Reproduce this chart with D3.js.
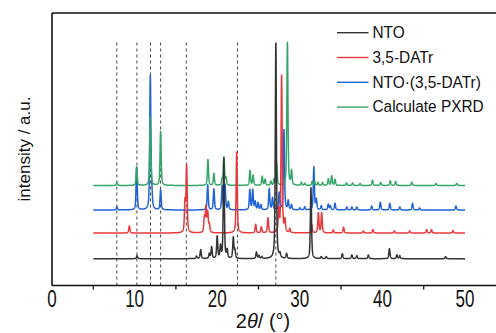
<!DOCTYPE html>
<html>
<head>
<meta charset="utf-8">
<script src="https://cdn.jsdelivr.net/npm/d3@7/dist/d3.min.js"></script>
<style>
  html, body { margin: 0; padding: 0; background: #fff; }
  svg { display: block; font-family: "Liberation Sans", Arial, sans-serif; }
</style>
</head>
<body>
<svg id="chart" width="496" height="333"></svg>
<script>
// Reflection lists [2θ (°), relative intensity (a.u.)] for each pattern
const ntoPeaks = [
  [10.3, 3], [17.5, 2.5], [18.0, 9], [19.05, 5], [19.33, 11.6], [20.0, 22], [20.4, 12],
  [20.8, 100], [21.2, 8], [21.95, 21], [22.15, 8], [24.75, 6.5], [25.05, 3], [25.4, 2],
  [27.1, 215], [27.6, 4], [28.4, 5], [31.35, 71], [32.6, 2], [33.2, 2], [35.15, 5],
  [36.3, 3.7], [36.9, 3], [38.3, 3.7], [40.85, 10], [41.75, 3.7], [42.1, 3], [47.65, 2]
];
const datrPeaks = [
  [9.36, 7], [16.1, 30], [16.3, 66], [18.45, 15], [18.64, 25], [18.85, 20], [19.05, 8],
  [22.36, 81], [24.66, 8.5], [25.35, 6], [26.15, 15], [27.45, 22], [27.8, 157], [28.2, 12],
  [28.8, 4], [31.45, 8], [32.25, 20], [32.65, 20], [34.06, 3], [35.3, 5.7], [37.7, 2],
  [38.85, 3.3], [41.45, 2], [43.3, 2], [45.35, 3.3], [45.95, 3.3], [48.55, 2.5]
];
const cocrystalPeaks = [
  [7.85, 3], [10.25, 43], [11.9, 133], [12.08, 15], [13.15, 20], [18.85, 25], [19.6, 21],
  [20.6, 24], [20.95, 25], [21.35, 8], [23.95, 20], [24.3, 20], [24.6, 8], [24.95, 7],
  [25.3, 5], [26.3, 21], [26.7, 12], [27.5, 17], [28.08, 80], [28.6, 9], [29.0, 5],
  [30.0, 2], [30.6, 3], [31.7, 43], [32.0, 10], [32.6, 4], [33.45, 5.7], [33.7, 4],
  [34.26, 6.7], [35.7, 3], [36.3, 3], [36.9, 3], [38.7, 4], [39.75, 7.7], [40.9, 6.7],
  [42.1, 3], [43.65, 6.7], [44.5, 2], [48.9, 4]
];
const calcPeaks = [
  [7.85, 3], [10.25, 18], [11.9, 68], [13.15, 54], [18.88, 26], [19.6, 12], [20.6, 6],
  [20.82, 28], [21.07, 7], [23.97, 15], [24.35, 10], [25.45, 9], [25.8, 6], [26.5, 4],
  [26.9, 6], [27.2, 22], [28.5, 143], [29.0, 14], [30.2, 3], [30.6, 2], [31.5, 4],
  [31.8, 4], [32.2, 3], [32.75, 3], [33.45, 6.5], [33.86, 9.5], [34.26, 6], [35.65, 2.5],
  [36.4, 2.5], [37.3, 2], [38.8, 5.3], [39.8, 3], [40.95, 4.7], [41.6, 4], [43.55, 3.3],
  [46.5, 2], [49.0, 2]
];

// Series names and vertical stacking offsets (a.u.)
const seriesNames = ["NTO", "3,5-DATr", "NTO·(3,5-DATr)", "Calculate PXRD"];
const seriesOffsets = [26.8, 52.5, 75.5, 100];
const seriesPeaks = [ntoPeaks, datrPeaks, cocrystalPeaks, calcPeaks];
const seriesColors = ["#333333", "#e8383d", "#1f63d6", "#35a567"];

// Reference reflections marked with dashed guides (2θ)
const guideAngles = [7.85, 10.28, 11.93, 13.15, 16.26, 22.45, 27.1];
const guideTop = 243;

// Axis ticks
const majorTicks = [0, 10, 20, 30, 40, 50];
const minorTicks = [5, 15, 25, 35, 45, 55];
const scanRange = [5, 50];

const svg = d3.select("#chart");
const x = d3.scaleLinear().domain([0, 55]).range([52, 506.3]);
const y = d3.scaleLinear().domain([0, 272.5]).range([285.5, 13]);

// Pseudo-Voigt line shape used to render each reflection as a trace
const fwhm = 0.16, eta = 0.55;
function intensity(t, peaks) {
  const hw = fwhm / 2;
  let s = 0;
  for (const [p, h] of peaks) {
    const u = (t - p) / hw;
    const u2 = u * u;
    s += h * (eta / (1 + u2) + (1 - eta) * Math.exp(-Math.LN2 * u2));
  }
  return s;
}
const grid = d3.range(scanRange[0], scanRange[1] + 0.0001, 0.01);

const line = d3.line().x(d => x(d[0])).y(d => y(d[1]));

// Dashed guide lines
svg.append("g").selectAll("line").data(guideAngles).join("line")
  .attr("x1", d => x(d)).attr("x2", d => x(d))
  .attr("y1", y(guideTop)).attr("y2", y(0))
  .attr("stroke", "#444").attr("stroke-width", 1)
  .attr("stroke-dasharray", "3,3");

// Traces: blue, green, red, black (black ends on top)
const drawOrder = [2, 3, 1, 0];
const traces = svg.append("g");
drawOrder.forEach(i => {
  const pts = grid.map(t => [t, seriesOffsets[i] + intensity(t, seriesPeaks[i])]);
  traces.append("path")
    .attr("d", line(pts))
    .attr("fill", "none")
    .attr("stroke", seriesColors[i])
    .attr("stroke-width", 1.5)
    .attr("stroke-linejoin", "round");
});

// Frame: left, top and bottom axis lines
const frame = svg.append("g").attr("stroke", "#111").attr("fill", "none");
frame.append("line").attr("x1", x(0)).attr("x2", 496).attr("y1", y(0)).attr("y2", y(0)).attr("stroke-width", 1.6);
frame.append("line").attr("x1", x(0)).attr("x2", 496).attr("y1", y(272.5)).attr("y2", y(272.5)).attr("stroke-width", 1.4);
frame.append("line").attr("x1", x(0)).attr("x2", x(0)).attr("y1", y(272.5)).attr("y2", y(0)).attr("stroke-width", 1.6);

// Minor tick marks below the axis
svg.append("g").selectAll("line").data(minorTicks).join("line")
  .attr("x1", d => x(d)).attr("x2", d => x(d))
  .attr("y1", y(0)).attr("y2", y(0) + 4)
  .attr("stroke", "#111").attr("stroke-width", 1.3);

// Tick labels (tall, narrow numerals)
svg.append("g").selectAll("text").data(majorTicks).join("text")
  .attr("transform", d => `translate(${x(d)},306.6) scale(1,1.4)`)
  .attr("text-anchor", "middle")
  .attr("font-size", 17)
  .attr("fill", "#111")
  .text(d => d);

// Axis titles
const xt = svg.append("text")
  .attr("x", 263).attr("y", 327.5)
  .attr("text-anchor", "middle")
  .attr("font-size", 20)
  .attr("fill", "#111");
xt.append("tspan").attr("font-style", "normal").text("2");
xt.append("tspan").attr("font-style", "italic").text("θ");
xt.append("tspan").attr("font-style", "normal").text("/ (°)");

svg.append("text")
  .attr("transform", "translate(29.5,149) rotate(-90)")
  .attr("text-anchor", "middle")
  .attr("font-size", 17)
  .attr("fill", "#111")
  .text("intensity / a.u.");

// Legend
const legend = svg.append("g");
seriesNames.forEach((name, i) => {
  const ly = 32.7 + i * 24.8;
  legend.append("line")
    .attr("x1", 337).attr("x2", 368.5).attr("y1", ly).attr("y2", ly)
    .attr("stroke", seriesColors[i]).attr("stroke-width", 1.4);
  legend.append("text")
    .attr("transform", `translate(372.5,${ly + 5.2}) scale(1,1.12)`)
    .attr("font-size", 15.4)
    .attr("fill", "#111")
    .text(name);
});
</script>
</body>
</html>
